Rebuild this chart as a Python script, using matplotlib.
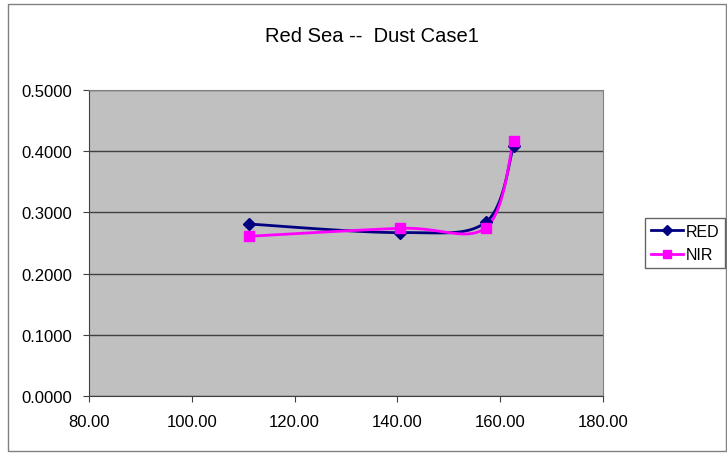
import numpy as np
import matplotlib.pyplot as plt
from matplotlib.patches import Rectangle

plt.rcParams['font.family'] = ['Liberation Sans', 'DejaVu Sans']

# ------------------- Data ---------------------
angle = [111.1, 140.6, 157.2, 162.6]
red = [0.281, 0.267, 0.284, 0.408]
nir = [0.261, 0.274, 0.275, 0.416]

x_ticks = [80, 100, 120, 140, 160, 180]
y_ticks = [0.0, 0.1, 0.2, 0.3, 0.4, 0.5]


def smooth(xs, ys, n=40):
    # Excel-like smoothed line (Catmull-Rom bezier through the points)
    p = np.column_stack([xs, ys]).astype(float)
    p = np.vstack([p[0], p, p[-1]])
    out = []
    t = np.linspace(0, 1, n)[:, None]
    for i in range(1, len(p) - 2):
        p0, p1, p2, p3 = p[i - 1], p[i], p[i + 1], p[i + 2]
        c1 = p1 + (p2 - p0) / 6
        c2 = p2 - (p3 - p1) / 6
        seg = ((1 - t) ** 3) * p1 + 3 * ((1 - t) ** 2) * t * c1 \
            + 3 * (1 - t) * t ** 2 * c2 + t ** 3 * p2
        out.append(seg)
    seg = np.vstack(out)
    return seg[:, 0], seg[:, 1]


# ------------------- Figure ---------------------
fig = plt.figure(figsize=(7.27, 4.56), dpi=100)
fig.patches.append(Rectangle((8 / 727, 4 / 456), 1 - 9 / 727, 1 - 9 / 456,
                             transform=fig.transFigure, fill=False,
                             edgecolor='#808080', linewidth=1))

ax = fig.add_axes([89 / 727, 1 - 397 / 456, (603 - 89) / 727, (397 - 91) / 456])
ax.set_facecolor('#C0C0C0')

series = [
    ('RED', red, '#000080', 'D', 6),
    ('NIR', nir, '#FF00FF', 's', 7),
]
for label, ys, color, marker, ms in series:
    sx, sy = smooth(angle, ys)
    ax.plot(sx, sy, color=color, linewidth=2, zorder=3)
    ax.plot(angle, ys, linestyle='none', marker=marker, markersize=ms,
            color=color, zorder=4)
    ax.plot([], [], color=color, linewidth=2, marker=marker,
            markersize=ms - 1, label=label)

ax.set_xlim(80, 180)
ax.set_ylim(0, 0.5)
ax.set_xticks(x_ticks)
ax.set_xticklabels([f'{v:.2f}' for v in x_ticks])
ax.set_yticks(y_ticks)
ax.set_yticklabels([f'{v:.4f}' for v in y_ticks])
ax.tick_params(labelsize=12, length=4, color='#404040', pad=8)
ax.tick_params(axis='x', pad=9)
ax.grid(axis='y', color='#404040', linewidth=1)
ax.set_axisbelow(True)
for s in ax.spines.values():
    s.set_color('#808080')
ax.spines['left'].set_color('#404040')
ax.spines['bottom'].set_color('#404040')

fig.text(372 / 727, 1 - 36 / 456, 'Red Sea --  Dust Case1', ha='center',
         va='center', fontsize=14.5)

fig.legend(loc='center left', bbox_to_anchor=(645 / 727, 1 - 244 / 456),
           fontsize=11.5, frameon=True, fancybox=False, edgecolor='#404040',
           handlelength=2.0, borderpad=0.35, labelspacing=0.55,
           handletextpad=0.2, borderaxespad=0)

fig.savefig('out.png', dpi=100)
